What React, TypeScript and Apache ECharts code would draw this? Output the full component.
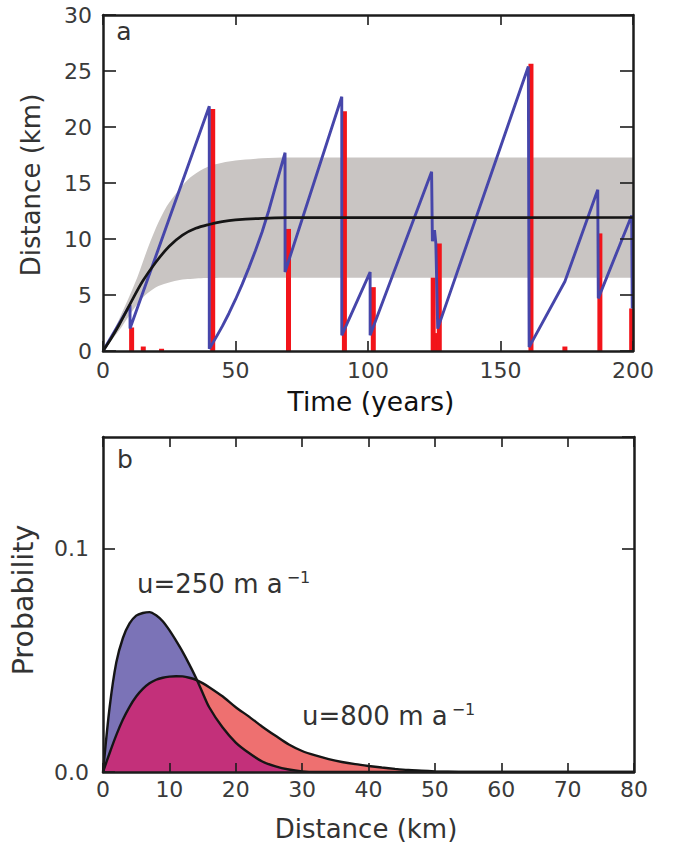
import React, { useEffect, useRef } from 'react';
import * as echarts from 'echarts';

// ---- Panel a: calving-front position through time ----
const bandTime = [0, 3, 6, 10, 13, 16, 20, 24, 28, 32, 36, 40, 45, 50, 60, 70, 200];
const bandLower = [0, 0.9, 1.8, 3.2, 4.2, 5.0, 5.7, 6.05, 6.3, 6.42, 6.5, 6.52, 6.55, 6.55, 6.55, 6.55, 6.55];
const bandUpper = [0, 1.3, 2.8, 4.9, 6.6, 8.6, 11.0, 12.9, 14.2, 15.3, 16.0, 16.5, 16.8, 17.0, 17.2, 17.27, 17.27];

const meanTime = [0, 3, 6, 10, 15, 20, 25, 30, 35, 40, 45, 50, 60, 70, 200];
const meanDist = [0, 1.1, 2.3, 4.1, 6.25, 7.95, 9.35, 10.35, 10.95, 11.3, 11.55, 11.7, 11.85, 11.9, 11.92];

const glacierTime = [0, 10.2, 10.2, 40.1, 40.1, 42.5, 45, 47.5, 50, 52.5, 55, 57.5, 60, 62.5, 65, 68.7, 68.7, 90.1, 90.1, 100.8, 100.8, 124, 124.3, 125.1, 125.6, 126.3, 160.5, 160.8, 174.3, 186.7, 186.9, 199.5, 199.7];
const glacierDist = [0, 4.1, 2.0, 21.85, 0.2, 1.15, 2.2, 3.35, 4.6, 5.95, 7.4, 8.95, 10.6, 12.5, 14.6, 17.7, 7.05, 22.7, 1.4, 7.05, 1.4, 16.0, 9.8, 10.8, 9.6, 2.0, 25.4, 0.35, 6.2, 14.4, 4.7, 12.1, 3.8];

const calvingTime = [10.8, 15.2, 22.1, 41.4, 70, 91.1, 102, 124.6, 125.8, 126.9, 161.5, 174.3, 187.5, 199.5];
const calvingSize = [2.1, 0.4, 0.2, 21.6, 10.9, 21.4, 5.7, 6.55, 1.6, 9.6, 25.65, 0.4, 10.5, 3.8];

// ---- Panel b: probability distributions ----
const distKm = [0, 1, 2, 3, 4, 5, 6, 7, 8, 9, 10, 11, 12, 13, 14, 15, 16, 18, 20, 22, 24, 26, 28, 30, 32, 34, 36, 38, 40, 42, 44, 46, 48, 50, 52, 55, 60, 80];
const prob250 = [0, 0.029, 0.049, 0.06, 0.0665, 0.07, 0.0712, 0.0716, 0.0702, 0.0675, 0.0635, 0.0588, 0.0538, 0.0482, 0.0422, 0.0355, 0.029, 0.02, 0.0132, 0.0085, 0.0047, 0.0025, 0.0011, 0.0003, 0, 0, 0, 0, 0, 0, 0, 0, 0, 0, 0, 0, 0, 0];
const prob800 = [0, 0.0085, 0.0165, 0.0235, 0.0292, 0.0338, 0.0372, 0.0397, 0.0413, 0.0422, 0.0427, 0.0429, 0.0428, 0.0422, 0.0413, 0.0398, 0.038, 0.0339, 0.029, 0.0248, 0.0203, 0.0162, 0.0123, 0.0094, 0.0074, 0.0058, 0.0045, 0.0035, 0.0027, 0.002, 0.0014, 0.0009, 0.0006, 0.0003, 0.0001, 0, 0, 0];

const FONT = 'DejaVu Sans';
const FRAME = '#1c1c1c';

const zip = (a: number[], b: number[]) => a.map((v, i) => [v, b[i]]);

function axisBase(extra: any) {
  return {
    type: 'value',
    z: 10,
    axisLine: { show: true, onZero: false, lineStyle: { color: FRAME, width: 2.5 } },
    axisTick: { show: true, inside: true, length: 10, lineStyle: { color: FRAME, width: 1.6 } },
    splitLine: { show: false },
    axisLabel: { show: false },
    ...extra,
  };
}

const labelStyle = { fontFamily: FONT, fontSize: 22, color: '#3a3a3a' };
const tick = (length: number) => ({ show: true, inside: true, length, lineStyle: { color: FRAME, width: 1.6 } });

export default function App() {
  const ref = useRef<HTMLDivElement>(null);
  useEffect(() => {
    if (!ref.current) return;
    const chart = echarts.init(ref.current, undefined, { renderer: 'svg' });
    const overlap = prob250.map((v, i) => Math.min(v, prob800[i]));
    const option: any = {
      animation: false,
      backgroundColor: '#ffffff',
      grid: [
        { left: 103, top: 15, width: 530, height: 336 },
        { left: 103, top: 437, width: 531, height: 335 },
      ],
      xAxis: [
        axisBase({ gridIndex: 0, position: 'bottom', min: 0, max: 200, interval: 50,
          axisLabel: { show: true, margin: 8, ...labelStyle } }),
        axisBase({ gridIndex: 0, position: 'top', min: 0, max: 200, interval: 50 }),
        axisBase({ gridIndex: 1, position: 'bottom', min: 0, max: 80, interval: 10, axisTick: tick(9),
          axisLabel: { show: true, margin: 6, ...labelStyle } }),
        axisBase({ gridIndex: 1, position: 'top', min: 0, max: 80, interval: 10, axisTick: tick(10) }),
      ],
      yAxis: [
        axisBase({ gridIndex: 0, position: 'left', min: 0, max: 30, interval: 5, axisTick: tick(13),
          axisLabel: { show: true, margin: 11, ...labelStyle } }),
        axisBase({ gridIndex: 0, position: 'right', min: 0, max: 30, interval: 5, axisTick: tick(13) }),
        axisBase({ gridIndex: 1, position: 'left', min: 0, max: 0.15, interval: 0.1, axisTick: tick(12),
          axisLabel: { show: true, margin: 14, showMaxLabel: false, ...labelStyle,
            formatter: (v: number) => (Math.abs(v) < 1e-9 ? '0.0' : Math.abs(v - 0.1) < 1e-9 ? '0.1' : '') } }),
        axisBase({ gridIndex: 1, position: 'right', min: 0, max: 0.15, interval: 0.1, axisTick: tick(12) }),
      ],
      series: [
        // grey spread band: upper envelope filled grey, lower envelope filled white over it
        { type: 'line', xAxisIndex: 0, yAxisIndex: 0, data: zip(bandTime, bandUpper),
          symbol: 'none', smooth: 0.3, lineStyle: { width: 0, opacity: 0 },
          areaStyle: { color: '#c9c5c3', opacity: 1 }, z: 1 },
        { type: 'line', xAxisIndex: 0, yAxisIndex: 0, data: zip(bandTime, bandLower),
          symbol: 'none', smooth: 0.3, lineStyle: { width: 0, opacity: 0 },
          areaStyle: { color: '#ffffff', opacity: 1 }, z: 2 },
        { type: 'bar', xAxisIndex: 0, yAxisIndex: 0, data: zip(calvingTime, calvingSize),
          barWidth: 5, itemStyle: { color: '#f2141a' }, z: 3 },
        { type: 'line', xAxisIndex: 0, yAxisIndex: 0, data: zip(glacierTime, glacierDist),
          symbol: 'none', lineStyle: { color: '#4646aa', width: 2.9 }, z: 4 },
        { type: 'line', xAxisIndex: 0, yAxisIndex: 0, data: zip(meanTime, meanDist),
          symbol: 'none', smooth: 0.35, lineStyle: { color: '#151515', width: 2.7 }, z: 5 },

        { type: 'line', xAxisIndex: 2, yAxisIndex: 2, data: zip(distKm, prob800), symbol: 'none', smooth: 0.3,
          lineStyle: { width: 0, opacity: 0 }, areaStyle: { color: '#ee7070', opacity: 1 }, z: 1 },
        { type: 'line', xAxisIndex: 2, yAxisIndex: 2, data: zip(distKm, prob250), symbol: 'none', smooth: 0.3,
          lineStyle: { width: 0, opacity: 0 }, areaStyle: { color: '#7b73b7', opacity: 1 }, z: 2 },
        { type: 'line', xAxisIndex: 2, yAxisIndex: 2, data: zip(distKm, overlap), symbol: 'none', smooth: 0.3,
          lineStyle: { width: 0, opacity: 0 }, areaStyle: { color: '#c3307a', opacity: 1 }, z: 3 },
        { type: 'line', xAxisIndex: 2, yAxisIndex: 2, data: zip(distKm, prob800), symbol: 'none', smooth: 0.3,
          lineStyle: { color: '#151515', width: 2.4 }, z: 4 },
        { type: 'line', xAxisIndex: 2, yAxisIndex: 2, data: zip(distKm, prob250), symbol: 'none', smooth: 0.3,
          lineStyle: { color: '#151515', width: 2.4 }, z: 4 },
      ],
      graphic: [
        { type: 'text', x: 124, y: 31, z: 10, style: { text: 'a', fontFamily: FONT, fontSize: 25, fill: '#333', align: 'center', verticalAlign: 'middle' } },
        { type: 'text', x: 125, y: 459, z: 10, style: { text: 'b', fontFamily: FONT, fontSize: 25, fill: '#333', align: 'center', verticalAlign: 'middle' } },
        { type: 'text', x: 31, y: 185, rotation: Math.PI / 2, z: 10, style: { text: 'Distance (km)', fontFamily: FONT, fontSize: 26, fill: '#333', align: 'center', verticalAlign: 'middle' } },
        { type: 'text', x: 371, y: 401, z: 10, style: { text: 'Time (years)', fontFamily: FONT, fontSize: 26.5, fill: '#111', align: 'center', verticalAlign: 'middle' } },
        { type: 'text', x: 23, y: 600, rotation: Math.PI / 2, z: 10, style: { text: 'Probability', fontFamily: FONT, fontSize: 28.5, fill: '#333', align: 'center', verticalAlign: 'middle' } },
        { type: 'text', x: 366, y: 829, z: 10, style: { text: 'Distance (km)', fontFamily: FONT, fontSize: 26, fill: '#333', align: 'center', verticalAlign: 'middle' } },
        { type: 'text', x: 137, y: 584, z: 10, style: {
          text: '{m|u=250 m a}{s|−1}', align: 'left', verticalAlign: 'middle',
          rich: {
            m: { fontFamily: FONT, fontSize: 26, fill: '#333', color: '#333', lineHeight: 30 },
            s: { fontFamily: FONT, fontSize: 16, fill: '#333', color: '#333', verticalAlign: 'top', padding: [0, 0, 0, 4] },
          } } },
        { type: 'text', x: 302, y: 716, z: 10, style: {
          text: '{m|u=800 m a}{s|−1}', align: 'left', verticalAlign: 'middle',
          rich: {
            m: { fontFamily: FONT, fontSize: 26, fill: '#333', color: '#333', lineHeight: 30 },
            s: { fontFamily: FONT, fontSize: 16, fill: '#333', color: '#333', verticalAlign: 'top', padding: [0, 0, 0, 4] },
          } } },
      ],
    };
    chart.setOption(option);
    return () => chart.dispose();
  }, []);
  return (
    <div
      ref={ref}
      style={{ position: 'fixed', left: 0, top: 0, width: 686, height: 850, background: '#fff' }}
    />
  );
}
